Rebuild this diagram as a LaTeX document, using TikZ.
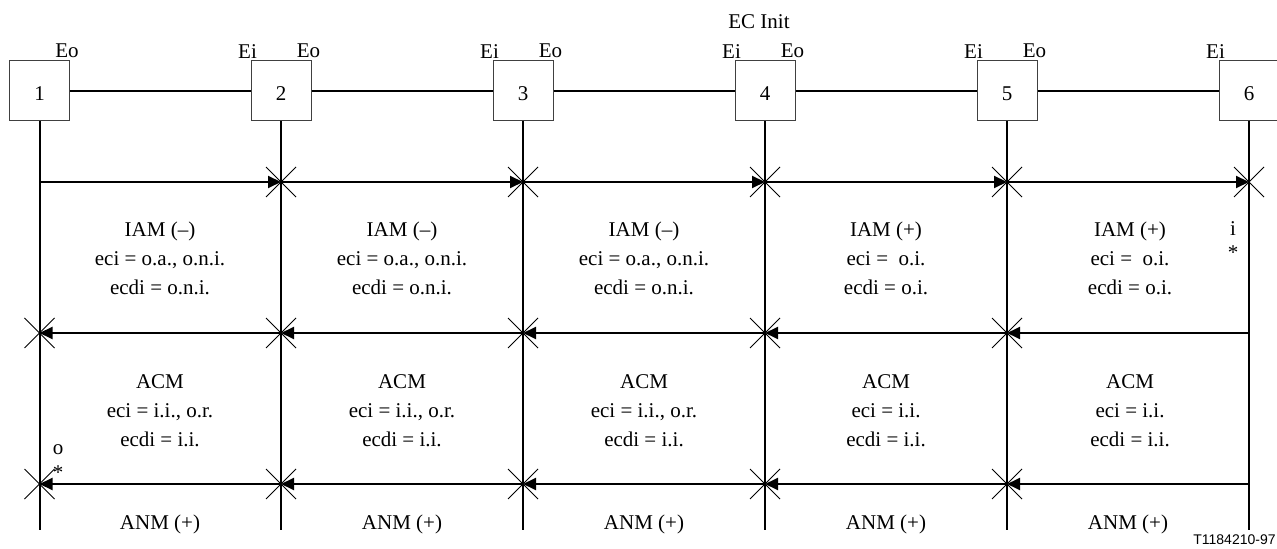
\documentclass[tikz,border=0pt]{standalone}
\usepackage{fontspec}
\setmainfont{Liberation Serif}
\newfontfamily\tagfont{Liberation Sans}
\usepackage{tikz}
\usetikzlibrary{arrows.meta, positioning}

\begin{document}
\begin{tikzpicture}[x=0.5pt, y=-0.5pt, every node/.style={font=\fontsize{10.5}{14.5}\selectfont},
  exch/.style={draw=black!75, line width=0.5pt, minimum width=30pt, minimum height=30pt, inner sep=0pt, text height=10pt},
  port/.style={anchor=south, inner sep=1pt, xshift=-1.5pt},
  msg/.style={align=center, inner sep=0pt},
  sig/.style={line width=1pt, -{Triangle[length=6.5pt, width=6pt]}},
  xmark/.pic={\draw[line width=0.4pt] (-15,-15) -- (15,15) (-15,15) -- (15,-15);}]
  \useasboundingbox (0,0) rectangle (1277,549);
  \foreach \k/\x in {1/39.5, 2/281, 3/523, 4/765, 5/1007, 6/1249} {
    \node[exch] (ex\k) at (\x,91) {\k};
    \coordinate (f\k) at (\x,182);
    \coordinate (b\k) at (\x,333);
    \coordinate (a\k) at (\x,484);
    \coordinate (e\k) at (\x,530);
    \draw[line width=1pt] (ex\k) -- (e\k);
  }
  \foreach \k/\n in {1/2, 2/3, 3/4, 4/5, 5/6} {
    \draw[line width=1pt] (ex\k) -- (ex\n);
    \draw[sig] (f\k) -- (f\n);
    \draw[sig] (b\n) -- (b\k);
    \draw[sig] (a\n) -- (a\k);
    \pic at (f\n) {xmark};
    \pic at (b\k) {xmark};
    \pic at (a\k) {xmark};
  }
  \foreach \k in {2,...,6} \node[port] at (ex\k.north west) {Ei};
  \foreach \k in {1,...,5} \node[port] at (ex\k.north east) {Eo};
  \node[above=12.5pt of ex4.north, xshift=-3pt] (ecinit) {EC Init};

  % messages per section
  \foreach \k/\x in {1/160, 2/402, 3/644} {
    \node[msg] (iam\k) at (\x,258) {IAM (--)\\eci = o.a., o.n.i.\\ecdi = o.n.i.};
    \node[msg] (acm\k) at (\x,411) {ACM\\eci = i.i., o.r.\\ecdi = i.i.};
  }
  \foreach \k/\x in {4/886, 5/1130} {
    \node[msg] (iam\k) at (\x,258) {IAM (+)\\eci = \ o.i.\\ecdi = o.i.};
    \node[msg] (acm\k) at (\x,411) {ACM\\eci = i.i.\\ecdi = i.i.};
  }
  \foreach \k/\x in {1/160, 2/402, 3/644, 4/886, 5/1128}
    \node[msg] (anm\k) at (\x,524) {ANM (+)};

  \node[inner sep=0pt] (omark) at (58,450) {o};
  \node[inner sep=0pt] (ostar) at (58,473) {*};
  \node[inner sep=0pt] (imark) at (1233,229) {i};
  \node[inner sep=0pt] (istar) at (1233,253) {*};
  \node[anchor=east, inner sep=0pt, font=\tagfont\fontsize{7}{8}\selectfont] (tag) at (1276,540) {T1184210-97};
\end{tikzpicture}
\end{document}
